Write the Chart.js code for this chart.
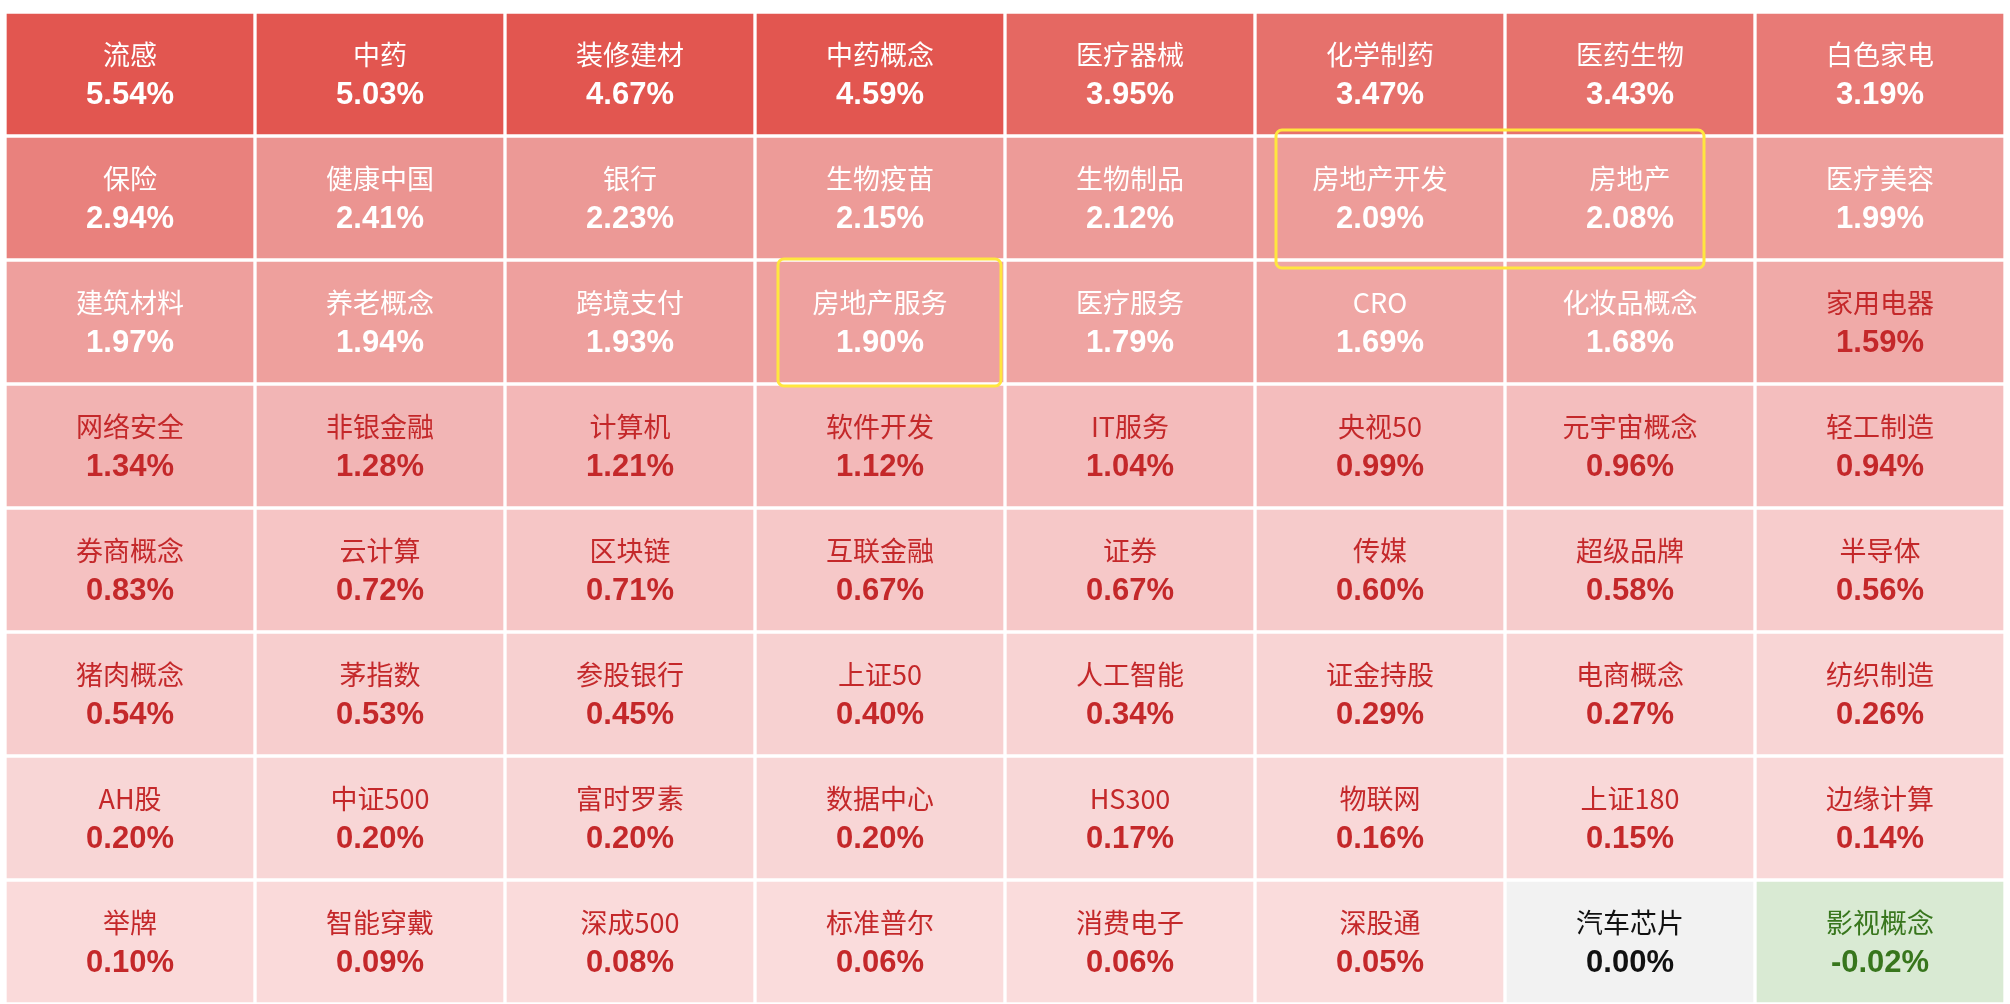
<!DOCTYPE html>
<html>
<head>
<meta charset="utf-8">
<script src="https://cdn.jsdelivr.net/npm/chart.js@4.4.1/dist/chart.umd.min.js"></script>
<style>
  html, body { margin: 0; padding: 0; background: #fff; }
  canvas { display: block; }
</style>
</head>
<body>
<canvas id="heat" width="2010" height="1004"></canvas>
<script>
// 板块涨跌幅, 按行排列 (每行8个)
const columns = ['1', '2', '3', '4', '5', '6', '7', '8'];
const names = [
    '流感', '中药', '装修建材', '中药概念', '医疗器械', '化学制药', '医药生物', '白色家电',
    '保险', '健康中国', '银行', '生物疫苗', '生物制品', '房地产开发', '房地产', '医疗美容',
    '建筑材料', '养老概念', '跨境支付', '房地产服务', '医疗服务', 'CRO', '化妆品概念', '家用电器',
    '网络安全', '非银金融', '计算机', '软件开发', 'IT服务', '央视50', '元宇宙概念', '轻工制造',
    '券商概念', '云计算', '区块链', '互联金融', '证券', '传媒', '超级品牌', '半导体',
    '猪肉概念', '茅指数', '参股银行', '上证50', '人工智能', '证金持股', '电商概念', '纺织制造',
    'AH股', '中证500', '富时罗素', '数据中心', 'HS300', '物联网', '上证180', '边缘计算',
    '举牌', '智能穿戴', '深成500', '标准普尔', '消费电子', '深股通', '汽车芯片', '影视概念'
];
const changes = [
    5.54, 5.03, 4.67, 4.59, 3.95, 3.47, 3.43, 3.19,
    2.94, 2.41, 2.23, 2.15, 2.12, 2.09, 2.08, 1.99,
    1.97, 1.94, 1.93, 1.90, 1.79, 1.69, 1.68, 1.59,
    1.34, 1.28, 1.21, 1.12, 1.04, 0.99, 0.96, 0.94,
    0.83, 0.72, 0.71, 0.67, 0.67, 0.60, 0.58, 0.56,
    0.54, 0.53, 0.45, 0.40, 0.34, 0.29, 0.27, 0.26,
    0.20, 0.20, 0.20, 0.20, 0.17, 0.16, 0.15, 0.14,
    0.10, 0.09, 0.08, 0.06, 0.06, 0.05, 0.00, -0.02
];
// 黄色标注框 (列/行坐标)
const highlights = [
    { x0: 4.584, x1: 6.296, y0: 0.952, y1: 2.065 },
    { x0: 2.592, x1: 3.484, y0: 1.992, y1: 3.016 }
];

// 颜色刻度
const stops = [
    [0, [251, 222, 222]], [0.2, [248, 214, 214]], [0.5, [247, 207, 207]],
    [0.8, [245, 194, 194]], [1.3, [242, 180, 180]], [1.7, [239, 166, 164]],
    [2.1, [237, 156, 153]], [2.4, [235, 148, 145]], [2.95, [233, 129, 125]],
    [3.2, [232, 122, 118]], [3.45, [230, 113, 108]], [3.95, [229, 104, 98]],
    [4.6, [226, 86, 80]], [6, [226, 86, 80]]
];

function cellColor(v) {
    if (v === 0) return '#F2F2F2';
    if (v < 0) return '#D9EAD3';
    for (let i = 1; i < stops.length; i++) {
        if (v <= stops[i][0]) {
            const [a, ca] = stops[i - 1], [b, cb] = stops[i];
            const t = (v - a) / (b - a);
            const c = ca.map((k, j) => Math.round(k + (cb[j] - k) * t));
            return `rgb(${c.join(',')})`;
        }
    }
    return 'rgb(226,86,80)';
}

function textColor(v) {
    if (v === 0) return '#111';
    if (v < 0) return '#38761D';
    return v >= 1.6 ? '#FFFFFF' : '#C4282A';
}

const nRows = changes.length / columns.length;
const datasets = [];
for (let r = 0; r < nRows; r++) {
    const idx = columns.map((c, i) => r * columns.length + i);
    datasets.push({
        data: idx.map(() => [r, r + 1]),
        backgroundColor: idx.map(i => cellColor(changes[i])),
        borderColor: '#FFFFFF',
        borderWidth: 2,
        borderSkipped: false,
        grouped: false,
        barPercentage: 1,
        categoryPercentage: 1,
        cellIndex: idx
    });
}

const labelPlugin = {
    id: 'cellLabels',
    afterDatasetsDraw(chart) {
        const ctx = chart.ctx;
        ctx.save();
        ctx.textAlign = 'center';
        ctx.textBaseline = 'middle';
        chart.data.datasets.forEach((ds, di) => {
            chart.getDatasetMeta(di).data.forEach((el, j) => {
                const i = ds.cellIndex[j];
                const v = changes[i];
                const cy = (el.y + el.base) / 2;
                ctx.fillStyle = textColor(v);
                ctx.font = '400 27px "Noto Sans CJK SC", "Liberation Sans", sans-serif';
                ctx.fillText(names[i], el.x, cy - 19);
                ctx.font = 'bold 31px "Liberation Sans", Arial, sans-serif';
                ctx.fillText(v.toFixed(2) + '%', el.x, cy + 21);
            });
        });
        ctx.restore();
    }
};

const highlightPlugin = {
    id: 'highlights',
    afterDraw(chart) {
        const ctx = chart.ctx;
        const xs = chart.scales.x, ys = chart.scales.y;
        ctx.save();
        ctx.strokeStyle = '#FFE63F';
        ctx.lineWidth = 3;
        highlights.forEach(h => {
            const x0 = xs.getPixelForValue(h.x0), x1 = xs.getPixelForValue(h.x1);
            const y0 = ys.getPixelForValue(h.y0), y1 = ys.getPixelForValue(h.y1);
            ctx.beginPath();
            ctx.roundRect(x0, y0, x1 - x0, y1 - y0, 6);
            ctx.stroke();
        });
        ctx.restore();
    }
};

new Chart(document.getElementById('heat'), {
    type: 'bar',
    data: { labels: columns, datasets },
    options: {
        responsive: false,
        animation: false,
        layout: { padding: { left: 5, right: 5, top: 12, bottom: 0 } },
        scales: {
            x: { display: false },
            y: { display: false, min: 0, max: nRows, reverse: true }
        },
        plugins: { legend: { display: false }, tooltip: { enabled: false } }
    },
    plugins: [labelPlugin, highlightPlugin]
});
</script>
</body>
</html>
